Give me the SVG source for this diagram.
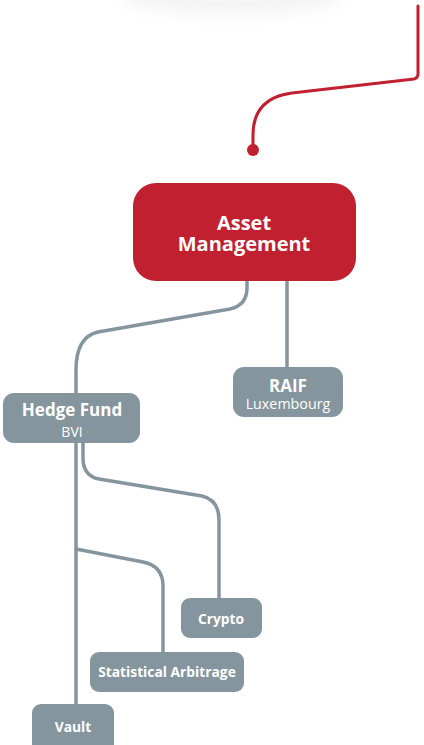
<svg xmlns="http://www.w3.org/2000/svg" width="424" height="745" viewBox="0 0 424 745">
<defs>
<style>
.red{fill:#C0202F}
.node{fill:#85959E}
.wire{fill:none;stroke:#85959E;stroke-width:3.5;stroke-linecap:round}
.rwire{fill:none;stroke:#C0202F;stroke-width:3;stroke-linecap:round}
text{font-family:"Open Sans","Liberation Sans",sans-serif;fill:#fff;text-anchor:middle}
.b{font-weight:bold}
.s{font-size:13.8px;font-weight:bold}
</style>
<filter id="blur" x="-50%" y="-50%" width="200%" height="200%"><feGaussianBlur stdDeviation="8"/></filter>
</defs>
<rect width="424" height="745" fill="#fff"/>
<ellipse cx="232" cy="-4" rx="110" ry="18" fill="#ececec" filter="url(#blur)" opacity="0.6"/>
<g id="connectors">
<path class="rwire" d="M418 6 V74 Q418 78 414 79 L292 93 Q253 98 253 135 V150"/>
<circle cx="253" cy="150" r="6" fill="#C0202F"/>
<path class="wire" d="M247 281 V288 Q247 305 230 309 L98 332 Q76 337 76 370 V705"/>
<path class="wire" d="M287 281 V367"/>
<path class="wire" d="M83 443 V458 Q83 476 99 479 L202 496 Q219 500 219 520 V598"/>
<path class="wire" d="M76 549 L143 562 Q163 566 163 586 V652"/>
</g>
<g id="asset-management">
<rect class="red" x="133" y="183" width="223" height="98" rx="23"/>
<text class="b" x="244" y="229.5" font-size="20">Asset</text>
<text class="b" x="244" y="250.5" font-size="20">Management</text>
</g>
<g id="raif">
<rect class="node" x="233" y="367" width="110" height="50" rx="11"/>
<text class="b" x="288" y="392" font-size="17">RAIF</text>
<text x="288" y="409" font-size="14.3">Luxembourg</text>
</g>
<g id="hedge-fund">
<rect class="node" x="3" y="393" width="137" height="50" rx="11"/>
<text class="b" x="72" y="416" font-size="17">Hedge Fund</text>
<text x="72" y="437" font-size="14">BVI</text>
</g>
<g id="crypto">
<rect class="node" x="181" y="598" width="81" height="40" rx="9"/>
<text class="s" x="221" y="624">Crypto</text>
</g>
<g id="statistical-arbitrage">
<rect class="node" x="90" y="652" width="154" height="40" rx="9"/>
<text class="s" x="167" y="677">Statistical Arbitrage</text>
</g>
<g id="vault">
<rect class="node" x="32" y="704" width="82" height="50" rx="9"/>
<text class="s" x="73" y="732">Vault</text>
</g>
</svg>
